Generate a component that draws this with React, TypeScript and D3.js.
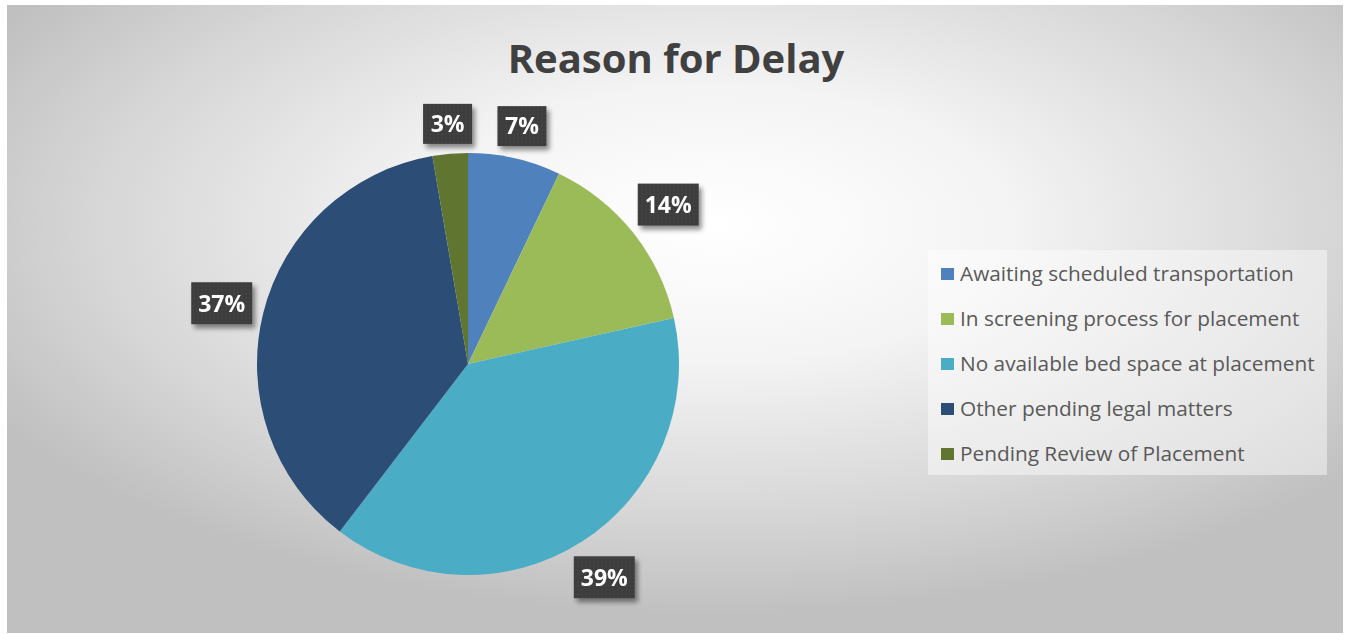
import * as d3 from "d3";

const categories = [
  "Awaiting scheduled transportation",
  "In screening process for placement",
  "No available bed space at placement",
  "Other pending legal matters",
  "Pending Review of Placement",
];
const values = [7.1, 14.4, 38.9, 36.9, 2.7];
const colors = ["#4F81BD", "#9BBB59", "#4BACC6", "#2C4D75", "#5F7530"];

const width = 1349;
const height = 634;

export default function App() {
  const cx = 468;
  const cy = 364;
  const r = 211;
  const total = d3.sum(values);

  const pie = d3
    .pie<number>()
    .sort(null)
    .value((d) => d);
  const arcs = pie(values);
  const arc = d3.arc<d3.PieArcDatum<number>>().innerRadius(0).outerRadius(r);

  // label boxes sit just outside the rim along the slice's middle angle
  const labels = arcs.map((a, i) => {
    const text = `${Math.round((values[i] / total) * 100)}%`;
    const w = text.length === 2 ? 49 : 61;
    const h = text.length === 2 ? 40 : 42;
    const mid = (a.startAngle + a.endAngle) / 2;
    const ux = Math.sin(mid);
    const uy = -Math.cos(mid);
    const support = Math.abs(ux) * (w / 2) + Math.abs(uy) * (h / 2);
    const dist = r + 8 + support;
    return { text, w, h, x: cx + ux * dist, y: cy + uy * dist };
  });

  const legendX = 928;
  const legendY = 250;
  const rowY = d3
    .scalePoint<string>()
    .domain(categories)
    .range([legendY + 24, legendY + 204]);

  return (
    <div style={{ position: "fixed", left: 0, top: 0 }}>
      <svg width={width} height={height} style={{ display: "block" }}>
        <defs>
          <radialGradient id="bg" cx="0.53" cy="0.35" r="0.62">
            <stop offset="0" stopColor="#ffffff" />
            <stop offset="0.35" stopColor="#f4f4f4" />
            <stop offset="0.75" stopColor="#d6d6d6" />
            <stop offset="1" stopColor="#c0c0c0" />
          </radialGradient>
          <pattern id="dots" width="4" height="4" patternUnits="userSpaceOnUse">
            <rect width="4" height="4" fill="#3d3d3d" />
            <circle cx="2" cy="2" r="0.8" fill="#4a4a4a" />
          </pattern>
          <filter id="shadow" x="-30%" y="-30%" width="160%" height="170%">
            <feGaussianBlur in="SourceAlpha" stdDeviation="2.5" />
            <feOffset dx="3" dy="4" result="b" />
            <feComponentTransfer>
              <feFuncA type="linear" slope="0.45" />
            </feComponentTransfer>
            <feMerge>
              <feMergeNode />
              <feMergeNode in="SourceGraphic" />
            </feMerge>
          </filter>
        </defs>
        <rect width={width} height={height} fill="#ffffff" />
        <rect x={7} y={5} width={1336} height={628} fill="url(#bg)" />

        <text
          x={676}
          y={73}
          textAnchor="middle"
          fontFamily="'Open Sans', sans-serif"
          fontWeight={700}
          fontSize={40}
          fill="#404040"
        >
          Reason for Delay
        </text>

        <g transform={`translate(${cx},${cy})`}>
          {arcs.map((a, i) => (
            <path key={i} d={arc(a) ?? ""} fill={colors[i]} />
          ))}
        </g>

        {labels.map((l, i) => (
          <g key={i} filter="url(#shadow)">
            <rect
              x={l.x - l.w / 2}
              y={l.y - l.h / 2}
              width={l.w}
              height={l.h}
              fill="url(#dots)"
            />
            <text
              x={l.x}
              y={l.y}
              dy="0.36em"
              textAnchor="middle"
              fontFamily="'Open Sans', sans-serif"
              fontWeight={700}
              fontSize={23}
              fill="#ffffff"
            >
              {l.text}
            </text>
          </g>
        ))}

        <rect
          x={legendX}
          y={legendY}
          width={399}
          height={225}
          fill="#ffffff"
          fillOpacity={0.45}
        />
        {categories.map((c, i) => (
          <g key={c}>
            <rect
              x={941}
              y={(rowY(c) ?? 0) - 6}
              width={13}
              height={12}
              fill={colors[i]}
            />
            <text
              x={960}
              y={rowY(c)}
              dy="0.35em"
              fontFamily="'Open Sans', sans-serif"
              fontSize={20.8}
              fill="#595959"
            >
              {c}
            </text>
          </g>
        ))}
      </svg>
    </div>
  );
}
